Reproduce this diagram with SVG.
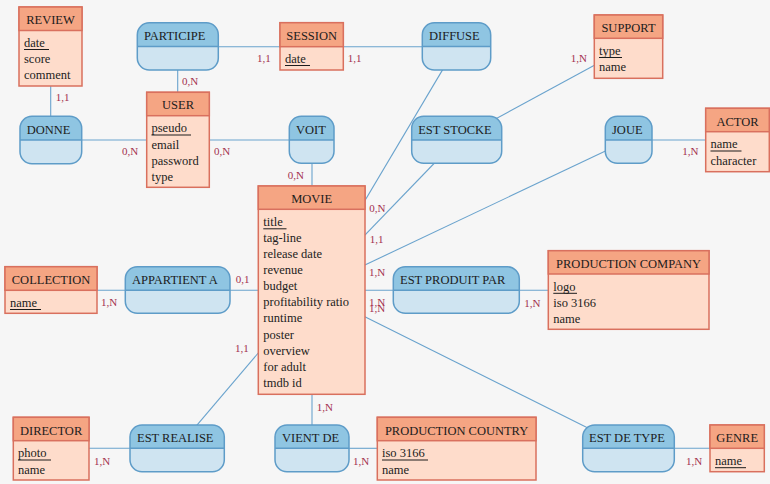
<svg xmlns="http://www.w3.org/2000/svg" width="770" height="484" viewBox="0 0 770 484">
<style>
text{font-family:"Liberation Serif","Times New Roman",serif;fill:#1c1c1c}
.t{font-size:12.5px}
.h{font-size:12.5px;text-anchor:middle}
.a{font-size:12.5px}
.c{font-size:11px;fill:#a3314f}
.eb{fill:#fedccb;stroke:#d9705e;stroke-width:1.5}
.eh{fill:#f5a583;stroke:#d9705e;stroke-width:1.5}
.ab{fill:#cfe4f1}
.ah{fill:#8fc5e2}
.ao{fill:none;stroke:#5e9cc8;stroke-width:1.5}
.dv{stroke:#5e9cc8;stroke-width:1.5}
.u{stroke:#1c1c1c;stroke-width:1}
.l{stroke:#6aa3cd;stroke-width:1.1;fill:none}
</style>
<rect width="770" height="484" fill="#f6f6f6"/>
<g id="connectors">
<line class="l" x1="50.7" y1="86" x2="50.7" y2="116"/>
<line class="l" x1="81" y1="140" x2="147" y2="140"/>
<line class="l" x1="177.7" y1="70" x2="177.7" y2="92"/>
<line class="l" x1="218" y1="46.7" x2="422" y2="46.7"/>
<line class="l" x1="209" y1="140" x2="290" y2="140"/>
<line class="l" x1="312" y1="163" x2="312" y2="186"/>
<line class="l" x1="456.5" y1="46.4" x2="311.7" y2="290.2"/>
<line class="l" x1="456.7" y1="140" x2="311.7" y2="290.2"/>
<line class="l" x1="456.7" y1="140" x2="628.5" y2="46.7"/>
<line class="l" x1="628.7" y1="140" x2="311.7" y2="290.2"/>
<line class="l" x1="652" y1="140" x2="706" y2="140"/>
<line class="l" x1="97" y1="290.3" x2="548" y2="290.3"/>
<line class="l" x1="311.7" y1="290.2" x2="628.5" y2="448.3"/>
<line class="l" x1="674" y1="448.3" x2="710" y2="448.3"/>
<line class="l" x1="311.7" y1="290.2" x2="177.2" y2="448.3"/>
<line class="l" x1="89" y1="448.3" x2="130" y2="448.3"/>
<line class="l" x1="312" y1="394" x2="312" y2="425"/>
<line class="l" x1="349" y1="448.3" x2="377" y2="448.3"/>
</g>
<g id="cardinalities">
<text class="c" x="55.7" y="101">1,1</text>
<text class="c" x="182" y="84.5">0,N</text>
<text class="c" x="122" y="155">0,N</text>
<text class="c" x="214" y="155">0,N</text>
<text class="c" x="257" y="62">1,1</text>
<text class="c" x="347.7" y="62">1,1</text>
<text class="c" x="570.7" y="62.3">1,N</text>
<text class="c" x="287.7" y="178.5">0,N</text>
<text class="c" x="682.3" y="155">1,N</text>
<text class="c" x="369.3" y="211.7">0,N</text>
<text class="c" x="369.7" y="243.3">1,1</text>
<text class="c" x="369" y="276">1,N</text>
<text class="c" x="235.7" y="283">0,1</text>
<text class="c" x="101" y="306">1,N</text>
<text class="c" x="369" y="305.7">1,N</text>
<text class="c" x="369" y="311.7">1,N</text>
<text class="c" x="524.3" y="307">1,N</text>
<text class="c" x="235" y="352">1,1</text>
<text class="c" x="316.7" y="411">1,N</text>
<text class="c" x="94" y="465">1,N</text>
<text class="c" x="353" y="465">1,N</text>
<text class="c" x="686" y="465">1,N</text>
</g>
<g id="REVIEW">
<rect class="eb" x="19" y="7" width="63" height="79"/>
<rect class="eh" x="19" y="7" width="63" height="23.5"/>
<text class="h" x="50.5" y="24.2">REVIEW</text>
<text class="t" x="24" y="47">date</text><line class="u" x1="24" y1="49.5" x2="49" y2="49.5"/>
<text class="t" x="24" y="63.2">score</text>
<text class="t" x="24" y="79.4">comment</text>
</g>
<g id="USER">
<rect class="eb" x="146.7" y="92.3" width="62.6" height="95"/>
<rect class="eh" x="146.7" y="92.3" width="62.6" height="23.4"/>
<text class="h" x="178" y="109.3">USER</text>
<text class="t" x="151.5" y="132.3">pseudo</text><line class="u" x1="151.5" y1="135" x2="191" y2="135"/>
<text class="t" x="151.5" y="148.5">email</text>
<text class="t" x="151.5" y="164.7">password</text>
<text class="t" x="151.5" y="180.9">type</text>
</g>
<g id="SESSION">
<rect class="eb" x="280" y="22.7" width="63.3" height="47.3"/>
<rect class="eh" x="280" y="22.7" width="63.3" height="24"/>
<text class="h" x="311.7" y="40">SESSION</text>
<text class="t" x="285" y="63">date</text><line class="u" x1="285" y1="65.5" x2="310" y2="65.5"/>
</g>
<g id="SUPPORT">
<rect class="eb" x="594.3" y="15" width="68.4" height="63.3"/>
<rect class="eh" x="594.3" y="15" width="68.4" height="23.3"/>
<text class="h" x="628.5" y="32.3">SUPPORT</text>
<text class="t" x="599" y="55">type</text><line class="u" x1="599" y1="57.5" x2="622" y2="57.5"/>
<text class="t" x="599" y="71.2">name</text>
</g>
<g id="ACTOR">
<rect class="eb" x="705.7" y="108.3" width="63.6" height="63.4"/>
<rect class="eh" x="705.7" y="108.3" width="63.6" height="23.4"/>
<text class="h" x="737.5" y="125.5">ACTOR</text>
<text class="t" x="710.5" y="148.3">name</text><line class="u" x1="710.5" y1="151" x2="741.5" y2="151"/>
<text class="t" x="710.5" y="164.5">character</text>
</g>
<g id="MOVIE">
<rect class="eb" x="258.3" y="186" width="106.7" height="208.3"/>
<rect class="eh" x="258.3" y="186" width="106.7" height="23.3"/>
<text class="h" x="311.7" y="203.3">MOVIE</text>
<text class="t" x="263.3" y="225.8">title</text><line class="u" x1="263.3" y1="228.8" x2="286.5" y2="228.8"/>
<text class="t" x="263.3" y="241.9">tag-line</text>
<text class="t" x="263.3" y="258">release date</text>
<text class="t" x="263.3" y="274.1">revenue</text>
<text class="t" x="263.3" y="290.2">budget</text>
<text class="t" x="263.3" y="306.3">profitability ratio</text>
<text class="t" x="263.3" y="322.4">runtime</text>
<text class="t" x="263.3" y="338.5">poster</text>
<text class="t" x="263.3" y="354.6">overview</text>
<text class="t" x="263.3" y="370.7">for adult</text>
<text class="t" x="263.3" y="386.8">tmdb id</text>
</g>
<g id="COLLECTION">
<rect class="eb" x="5" y="266.7" width="92" height="46.6"/>
<rect class="eh" x="5" y="266.7" width="92" height="23.6"/>
<text class="h" x="51" y="284">COLLECTION</text>
<text class="t" x="10" y="306.8">name</text><line class="u" x1="10" y1="309.5" x2="41" y2="309.5"/>
</g>
<g id="PRODUCTION_COMPANY">
<rect class="eb" x="548.3" y="250.7" width="160.7" height="78.6"/>
<rect class="eh" x="548.3" y="250.7" width="160.7" height="23.3"/>
<text class="h" x="628.6" y="268">PRODUCTION COMPANY</text>
<text class="t" x="553.3" y="290.6">logo</text><line class="u" x1="553.3" y1="293.3" x2="577" y2="293.3"/>
<text class="t" x="553.3" y="306.8">iso 3166</text>
<text class="t" x="553.3" y="323">name</text>
</g>
<g id="DIRECTOR">
<rect class="eb" x="13.3" y="417.3" width="75.7" height="62.7"/>
<rect class="eh" x="13.3" y="417.3" width="75.7" height="23.4"/>
<text class="h" x="51.1" y="434.6">DIRECTOR</text>
<text class="t" x="18" y="457.3">photo</text><line class="u" x1="18" y1="460" x2="51" y2="460"/>
<text class="t" x="18" y="473.5">name</text>
</g>
<g id="PRODUCTION_COUNTRY">
<rect class="eb" x="377.3" y="417.3" width="158.7" height="62.7"/>
<rect class="eh" x="377.3" y="417.3" width="158.7" height="23.4"/>
<text class="h" x="456.6" y="434.6">PRODUCTION COUNTRY</text>
<text class="t" x="382" y="457.3">iso 3166</text><line class="u" x1="382" y1="460" x2="428" y2="460"/>
<text class="t" x="382" y="473.5">name</text>
</g>
<g id="GENRE">
<rect class="eb" x="710" y="425" width="54.3" height="46.7"/>
<rect class="eh" x="710" y="425" width="54.3" height="23.3"/>
<text class="h" x="737.2" y="442.3">GENRE</text>
<text class="t" x="715" y="465">name</text><line class="u" x1="715" y1="467.7" x2="746" y2="467.7"/>
</g>
<g id="PARTICIPE">
<rect class="ab" x="137.3" y="22.7" width="81" height="47.3" rx="12"/>
<path class="ah" d="M137.3 46.4V34.7A12 12 0 0 1 149.3 22.7H206.3A12 12 0 0 1 218.3 34.7V46.4Z"/>
<line class="dv" x1="137.3" y1="46.4" x2="218.3" y2="46.4"/>
<rect class="ao" x="137.3" y="22.7" width="81" height="47.3" rx="12"/>
<text class="a" x="144" y="40">PARTICIPE</text>
</g>
<g id="DIFFUSE">
<rect class="ab" x="422.3" y="22.7" width="68.4" height="47.3" rx="12"/>
<path class="ah" d="M422.3 46.4V34.7A12 12 0 0 1 434.3 22.7H478.7A12 12 0 0 1 490.7 34.7V46.4Z"/>
<line class="dv" x1="422.3" y1="46.4" x2="490.7" y2="46.4"/>
<rect class="ao" x="422.3" y="22.7" width="68.4" height="47.3" rx="12"/>
<text class="a" x="429" y="40">DIFFUSE</text>
</g>
<g id="DONNE">
<rect class="ab" x="20" y="116.3" width="61.7" height="47.5" rx="12"/>
<path class="ah" d="M20 140V128.3A12 12 0 0 1 32 116.3H69.7A12 12 0 0 1 81.7 128.3V140Z"/>
<line class="dv" x1="20" y1="140" x2="81.7" y2="140"/>
<rect class="ao" x="20" y="116.3" width="61.7" height="47.5" rx="12"/>
<text class="a" x="26.7" y="133.5">DONNE</text>
</g>
<g id="VOIT">
<rect class="ab" x="289.3" y="116.3" width="44.7" height="47" rx="12"/>
<path class="ah" d="M289.3 140V128.3A12 12 0 0 1 301.3 116.3H322A12 12 0 0 1 334 128.3V140Z"/>
<line class="dv" x1="289.3" y1="140" x2="334" y2="140"/>
<rect class="ao" x="289.3" y="116.3" width="44.7" height="47" rx="12"/>
<text class="a" x="296" y="133.5">VOIT</text>
</g>
<g id="EST_STOCKE">
<rect class="ab" x="411.7" y="116.3" width="90" height="47" rx="12"/>
<path class="ah" d="M411.7 140V128.3A12 12 0 0 1 423.7 116.3H489.7A12 12 0 0 1 501.7 128.3V140Z"/>
<line class="dv" x1="411.7" y1="140" x2="501.7" y2="140"/>
<rect class="ao" x="411.7" y="116.3" width="90" height="47" rx="12"/>
<text class="a" x="418.2" y="133.5">EST STOCKE</text>
</g>
<g id="JOUE">
<rect class="ab" x="605.3" y="116.3" width="46.7" height="47" rx="12"/>
<path class="ah" d="M605.3 140V128.3A12 12 0 0 1 617.3 116.3H640A12 12 0 0 1 652 128.3V140Z"/>
<line class="dv" x1="605.3" y1="140" x2="652" y2="140"/>
<rect class="ao" x="605.3" y="116.3" width="46.7" height="47" rx="12"/>
<text class="a" x="612" y="133.5">JOUE</text>
</g>
<g id="APPARTIENT_A">
<rect class="ab" x="125.3" y="266.7" width="104.7" height="46.6" rx="12"/>
<path class="ah" d="M125.3 290.3V278.7A12 12 0 0 1 137.3 266.7H218A12 12 0 0 1 230 278.7V290.3Z"/>
<line class="dv" x1="125.3" y1="290.3" x2="230" y2="290.3"/>
<rect class="ao" x="125.3" y="266.7" width="104.7" height="46.6" rx="12"/>
<text class="a" x="132" y="284">APPARTIENT A</text>
</g>
<g id="EST_PRODUIT_PAR">
<rect class="ab" x="393.3" y="266.7" width="126" height="46.6" rx="12"/>
<path class="ah" d="M393.3 290.3V278.7A12 12 0 0 1 405.3 266.7H507.3A12 12 0 0 1 519.3 278.7V290.3Z"/>
<line class="dv" x1="393.3" y1="290.3" x2="519.3" y2="290.3"/>
<rect class="ao" x="393.3" y="266.7" width="126" height="46.6" rx="12"/>
<text class="a" x="400" y="284">EST PRODUIT PAR</text>
</g>
<g id="EST_REALISE">
<rect class="ab" x="130" y="425" width="94.3" height="46.7" rx="12"/>
<path class="ah" d="M130 448.3V437A12 12 0 0 1 142 425H212.3A12 12 0 0 1 224.3 437V448.3Z"/>
<line class="dv" x1="130" y1="448.3" x2="224.3" y2="448.3"/>
<rect class="ao" x="130" y="425" width="94.3" height="46.7" rx="12"/>
<text class="a" x="137" y="442.3">EST REALISE</text>
</g>
<g id="VIENT_DE">
<rect class="ab" x="275" y="425" width="74" height="46.7" rx="12"/>
<path class="ah" d="M275 448.3V437A12 12 0 0 1 287 425H337A12 12 0 0 1 349 437V448.3Z"/>
<line class="dv" x1="275" y1="448.3" x2="349" y2="448.3"/>
<rect class="ao" x="275" y="425" width="74" height="46.7" rx="12"/>
<text class="a" x="282" y="442.3">VIENT DE</text>
</g>
<g id="EST_DE_TYPE">
<rect class="ab" x="582.7" y="425" width="91.6" height="46.7" rx="12"/>
<path class="ah" d="M582.7 448.3V437A12 12 0 0 1 594.7 425H662.3A12 12 0 0 1 674.3 437V448.3Z"/>
<line class="dv" x1="582.7" y1="448.3" x2="674.3" y2="448.3"/>
<rect class="ao" x="582.7" y="425" width="91.6" height="46.7" rx="12"/>
<text class="a" x="589" y="442.3">EST DE TYPE</text>
</g>
</svg>
